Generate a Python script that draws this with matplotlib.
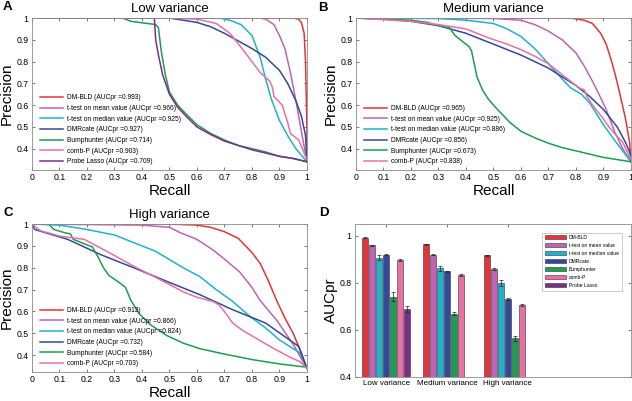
import matplotlib
matplotlib.use('Agg')
import matplotlib.pyplot as plt
import numpy as np

plt.rcParams['font.family'] = 'Liberation Sans'

# method names and colours
methods = ['DM-BLD', 't-test on mean value', 't-test on median value', 'DMRcate',
           'Bumphunter', 'comb-P', 'Probe Lasso']
colors = ['#e2353b', '#c262b4', '#1db3cd', '#34499c', '#1a9f50', '#e970a2', '#7a2e8b']

# ---- panel A: low variance (recall, precision) ----
low_auc = [0.993, 0.966, 0.925, 0.927, 0.714, 0.903, 0.709]
low_dmbld_r = [0, 0.95, 0.97, 0.98, 0.99, 0.995, 1.0, 1.0]
low_dmbld_p = [1, 1.0, 0.995, 0.98, 0.93, 0.8, 0.5, 0.34]
low_tmean_r = [0, 0.83, 0.85, 0.88, 0.9, 0.92, 0.94, 0.96, 0.98, 1.0]
low_tmean_p = [1, 1.0, 0.995, 0.97, 0.92, 0.86, 0.75, 0.62, 0.48, 0.34]
low_tmed_r = [0, 0.68, 0.72, 0.76, 0.8, 0.83, 0.85, 0.87, 0.9, 0.93, 0.96, 1.0]
low_tmed_p = [1, 1.0, 0.99, 0.97, 0.92, 0.82, 0.72, 0.63, 0.53, 0.46, 0.4, 0.34]
low_dmr_r = [0, 0.5, 0.6, 0.65, 0.7, 0.75, 0.8, 0.85, 0.9, 0.93, 0.96, 0.98, 0.995, 1.0]
low_dmr_p = [1, 1.0, 0.98, 0.96, 0.93, 0.895, 0.86, 0.82, 0.76, 0.7, 0.62, 0.55, 0.46, 0.34]
low_bump_r = [0, 0.33, 0.36, 0.42, 0.45, 0.46, 0.47, 0.485, 0.5, 0.53, 0.56, 0.6, 0.65,
              0.7, 0.75, 0.8, 0.85, 0.9, 0.95, 1.0]
low_bump_p = [1, 1.0, 0.985, 0.975, 0.97, 0.955, 0.85, 0.74, 0.66, 0.6, 0.56, 0.51, 0.47,
              0.44, 0.415, 0.4, 0.385, 0.365, 0.355, 0.34]
low_combp_r = [0, 0.5, 0.6, 0.67, 0.72, 0.77, 0.83, 0.865, 0.875, 0.88, 0.91, 0.93,
               0.94, 0.97, 1.0]
low_combp_p = [1, 1.0, 0.995, 0.975, 0.93, 0.85, 0.75, 0.71, 0.68, 0.64, 0.6, 0.52,
               0.47, 0.44, 0.35]
low_lasso_r = [0, 0.445, 0.45, 0.46, 0.475, 0.5, 0.53, 0.56, 0.6, 0.65, 0.7, 0.75,
               0.8, 0.85, 0.9, 0.95, 1.0]
low_lasso_p = [1, 1.0, 0.9, 0.83, 0.74, 0.65, 0.59, 0.55, 0.5, 0.465, 0.435, 0.415,
               0.395, 0.38, 0.365, 0.355, 0.34]

# ---- panel B: medium variance ----
med_auc = [0.965, 0.925, 0.886, 0.856, 0.673, 0.838]
med_dmbld_r = [0, 0.78, 0.83, 0.86, 0.89, 0.91, 0.93, 0.945, 0.96, 0.98, 0.995, 1.0]
med_dmbld_p = [1, 1.0, 0.99, 0.975, 0.93, 0.88, 0.8, 0.73, 0.65, 0.54, 0.43, 0.34]
med_tmean_r = [0, 0.5, 0.6, 0.65, 0.7, 0.75, 0.8, 0.83, 0.86, 0.88, 0.91, 0.94, 0.97, 1.0]
med_tmean_p = [1, 0.998, 0.99, 0.97, 0.94, 0.9, 0.84, 0.78, 0.71, 0.66, 0.58, 0.48, 0.4, 0.34]
med_tmed_r = [0, 0.3, 0.4, 0.5, 0.55, 0.6, 0.65, 0.7, 0.75, 0.78, 0.82, 0.85, 0.88,
              0.9, 0.94, 0.97, 1.0]
med_tmed_p = [1, 0.998, 0.99, 0.975, 0.95, 0.915, 0.86, 0.79, 0.72, 0.68, 0.65, 0.61,
              0.55, 0.51, 0.44, 0.39, 0.34]
med_dmr_r = [0, 0.1, 0.2, 0.3, 0.4, 0.5, 0.6, 0.7, 0.8, 0.85, 0.9, 0.95, 0.98, 1.0, 1.0]
med_dmr_p = [1, 0.995, 0.985, 0.965, 0.93, 0.88, 0.83, 0.77, 0.69, 0.64, 0.58, 0.5,
             0.43, 0.37, 0.34]
med_bump_r = [0, 0.2, 0.26, 0.3, 0.34, 0.36, 0.38, 0.41, 0.42, 0.43, 0.44, 0.46, 0.48,
              0.5, 0.53, 0.56, 0.6, 0.65, 0.7, 0.75, 0.8, 0.85, 0.9, 0.95, 1.0]
med_bump_p = [1, 0.99, 0.98, 0.965, 0.955, 0.92, 0.9, 0.87, 0.85, 0.79, 0.73, 0.67,
              0.63, 0.6, 0.56, 0.52, 0.48, 0.45, 0.425, 0.405, 0.39, 0.375, 0.36, 0.35, 0.34]
med_combp_r = [0, 0.2, 0.3, 0.4, 0.48, 0.55, 0.6, 0.65, 0.7, 0.75, 0.81, 0.83, 0.84,
               0.86, 0.895, 0.92, 0.94, 0.97, 1.0]
med_combp_p = [1, 0.985, 0.97, 0.95, 0.91, 0.88, 0.855, 0.825, 0.79, 0.74, 0.68, 0.67,
               0.64, 0.6, 0.545, 0.5, 0.47, 0.43, 0.35]

# ---- panel C: high variance ----
high_auc = [0.913, 0.866, 0.824, 0.732, 0.584, 0.703]
high_dmbld_r = [0, 0.5, 0.6, 0.65, 0.7, 0.75, 0.8, 0.83, 0.86, 0.89, 0.92, 0.95, 0.98, 1.0]
high_dmbld_p = [1, 1.0, 0.995, 0.985, 0.965, 0.935, 0.87, 0.82, 0.74, 0.65, 0.57, 0.5,
                0.41, 0.34]
high_tmean_r = [0, 0.4, 0.5, 0.54, 0.6, 0.66, 0.7, 0.756, 0.8, 0.83, 0.89, 0.95, 1.0]
high_tmean_p = [1, 0.995, 0.985, 0.96, 0.93, 0.88, 0.84, 0.78, 0.71, 0.65, 0.56, 0.45, 0.34]
high_tmed_r = [0, 0.1, 0.2, 0.3, 0.37, 0.45, 0.49, 0.55, 0.61, 0.67, 0.73, 0.79, 0.85,
               0.9, 0.975, 1.0]
high_tmed_p = [1, 0.995, 0.975, 0.95, 0.915, 0.875, 0.845, 0.8, 0.76, 0.7, 0.646, 0.58,
               0.524, 0.47, 0.41, 0.34]
high_dmr_r = [0, 0.01, 0.05, 0.13, 0.25, 0.37, 0.49, 0.61, 0.73, 0.85, 0.97, 1.0]
high_dmr_p = [1, 0.975, 0.96, 0.93, 0.86, 0.8, 0.738, 0.677, 0.608, 0.547, 0.44, 0.34]
high_bump_r = [0, 0.06, 0.08, 0.12, 0.14, 0.15, 0.18, 0.22, 0.24, 0.26, 0.28, 0.32,
               0.34, 0.36, 0.39, 0.43, 0.49, 0.55, 0.61, 0.7, 0.8, 0.9, 1.0]
high_bump_p = [1, 1.0, 0.975, 0.96, 0.955, 0.93, 0.915, 0.895, 0.85, 0.8, 0.765, 0.73,
               0.71, 0.65, 0.59, 0.54, 0.49, 0.455, 0.43, 0.405, 0.38, 0.36, 0.345]
high_combp_r = [0, 0.03, 0.1, 0.19, 0.28, 0.37, 0.49, 0.55, 0.6, 0.66, 0.68, 0.7, 0.73,
                0.77, 0.805, 0.88, 0.94, 0.975, 1.0]
high_combp_p = [1, 0.97, 0.945, 0.93, 0.87, 0.807, 0.73, 0.69, 0.665, 0.645, 0.63, 0.6,
                0.547, 0.51, 0.485, 0.43, 0.39, 0.37, 0.34]

# ---- panel D: AUCpr bars (mean, error) ----
groups = ['Low variance', 'Medium variance', 'High variance']
bar_means = [[0.993, 0.965, 0.917],
             [0.960, 0.920, 0.860],
             [0.908, 0.862, 0.800],
             [0.920, 0.850, 0.730],
             [0.742, 0.670, 0.565],
             [0.898, 0.835, 0.707],
             [0.690, np.nan, np.nan]]
bar_errs = [[0.002, 0.002, 0.004],
            [0.003, 0.002, 0.003],
            [0.010, 0.012, 0.012],
            [0.003, 0.003, 0.004],
            [0.018, 0.006, 0.010],
            [0.003, 0.004, 0.005],
            [0.012, np.nan, np.nan]]

fig = plt.figure(figsize=(6.32, 4.01), dpi=100)

frame_col = '#8c8c8c'


def style_axes(ax):
    for s in ax.spines.values():
        s.set_color(frame_col)
        s.set_linewidth(0.6)
    ax.tick_params(direction='in', length=2.5, width=0.5, color='#444444',
                   labelsize=6.3, top=True, right=True, pad=2.5)


def pr_panel(rect, ylo, curves, aucs, title):
    ax = fig.add_axes(rect)
    for i, (r, p) in enumerate(curves):
        ax.plot(r, p, color=colors[i], lw=1.1,
                label='%s (AUCpr =%.3f)' % (methods[i], aucs[i]))
    ax.set_xlim(0, 1)
    ax.set_ylim(ylo, 1)
    ax.set_xticks(np.arange(0, 1.01, 0.1))
    ax.set_xticklabels(['0', '0.1', '0.2', '0.3', '0.4', '0.5', '0.6', '0.7', '0.8', '0.9', '1'])
    ax.set_yticks(np.arange(0.4, 1.01, 0.1))
    ax.set_yticklabels(['0.4', '0.5', '0.6', '0.7', '0.8', '0.9', '1'])
    style_axes(ax)
    ax.set_xlabel('Recall', fontsize=11, labelpad=1)
    ax.set_ylabel('Precision', fontsize=11, labelpad=2)
    ax.set_title(title, fontsize=9.5, pad=4)
    ax.legend(loc='lower left', bbox_to_anchor=(0.012, 0.0), frameon=False,
              fontsize=4.8, handlelength=3.5, handletextpad=0.6,
              labelspacing=0.55, borderaxespad=0.3)
    return ax


pr_panel([0.0506, 0.576, 0.435, 0.379], 0.302,
         [(low_dmbld_r, low_dmbld_p), (low_tmean_r, low_tmean_p), (low_tmed_r, low_tmed_p),
          (low_dmr_r, low_dmr_p), (low_bump_r, low_bump_p), (low_combp_r, low_combp_p),
          (low_lasso_r, low_lasso_p)],
         low_auc, 'Low variance')

pr_panel([0.5633, 0.576, 0.435, 0.379], 0.302,
         [(med_dmbld_r, med_dmbld_p), (med_tmean_r, med_tmean_p), (med_tmed_r, med_tmed_p),
          (med_dmr_r, med_dmr_p), (med_bump_r, med_bump_p), (med_combp_r, med_combp_p)],
         med_auc, 'Medium variance')

pr_panel([0.0506, 0.0723, 0.435, 0.369], 0.323,
         [(high_dmbld_r, high_dmbld_p), (high_tmean_r, high_tmean_p), (high_tmed_r, high_tmed_p),
          (high_dmr_r, high_dmr_p), (high_bump_r, high_bump_p), (high_combp_r, high_combp_p)],
         high_auc, 'High variance')

# panel D
axd = fig.add_axes([0.5617, 0.0599, 0.4367, 0.3815])
x = np.arange(1, len(groups) + 1)
step = 0.1156
for i in range(len(methods)):
    axd.bar(x + (i - 3) * step, bar_means[i], width=0.09, color=colors[i],
            edgecolor='#333333', linewidth=0.4, label=methods[i],
            yerr=bar_errs[i], error_kw=dict(ecolor='#222222', elinewidth=0.5,
                                            capsize=1.2, capthick=0.5))
axd.set_xlim(0.49, 5.02)
axd.set_ylim(0.4, 1.051)
axd.set_xticks(x)
axd.set_xticklabels(groups)
axd.set_yticks([0.4, 0.6, 0.8, 1.0])
axd.set_yticklabels(['0.4', '0.6', '0.8', '1'])
style_axes(axd)
axd.tick_params(axis='x', labelsize=5.8)
axd.set_ylabel('AUCpr', fontsize=11, labelpad=1)
leg = axd.legend(loc='upper right', bbox_to_anchor=(0.975, 0.96), fontsize=3.6,
                 handlelength=4.2, handleheight=0.8, handletextpad=0.7,
                 labelspacing=0.6, fancybox=False, borderpad=0.5)
leg.get_frame().set_edgecolor('#aaaaaa')
leg.get_frame().set_linewidth(0.5)

# panel letters
for lx, ly, letter in [(0.004, 0.997, 'A'), (0.503, 0.995, 'B'),
                       (0.005, 0.483, 'C'), (0.505, 0.483, 'D')]:
    fig.text(lx, ly, letter, fontsize=9.5, fontweight='bold', va='top', ha='left')

fig.savefig('out.png', dpi=100)
